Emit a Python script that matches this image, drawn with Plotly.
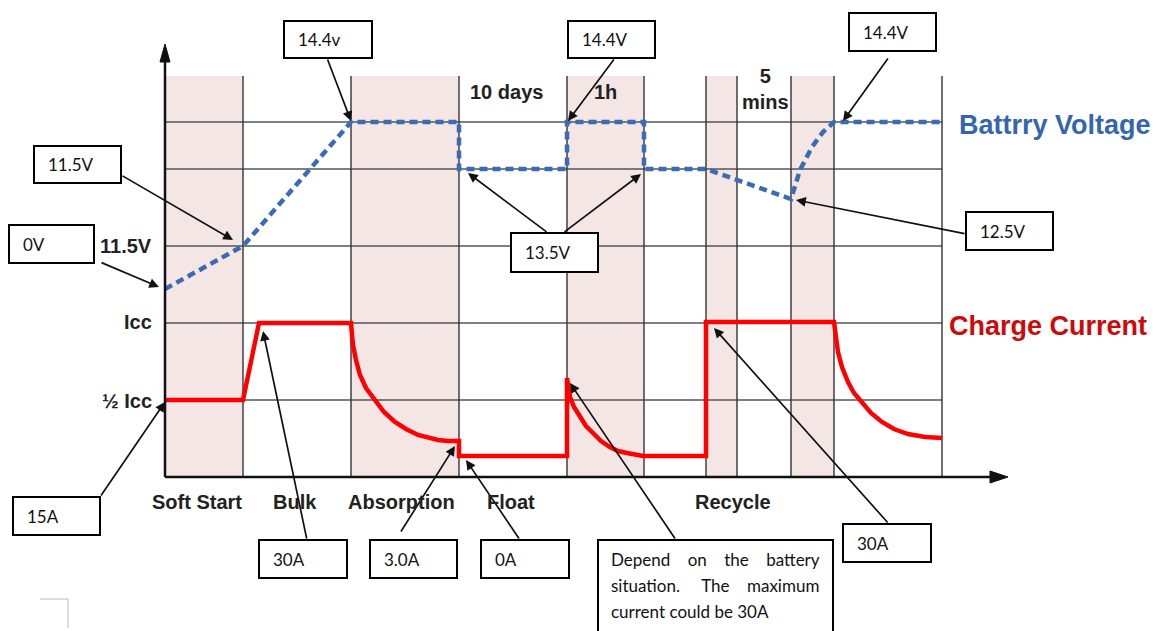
import plotly.graph_objects as go

# ---- data (in picture pixel coordinates) ----
phase_x = [165, 243, 351, 459, 567, 644, 706, 737, 791, 834, 942]
shaded_spans = [(165, 243), (351, 459), (567, 644), (706, 737), (791, 834)]
grid_y = [122, 169, 246, 323, 400]

voltage_x = [165, 243, 351, 459, 459, 567, 567, 644, 644, 706, 791, 800, 812, 823, 834, 942]
voltage_y = [289, 246, 122, 122, 169, 169, 122, 122, 169, 169, 199, 170, 147, 132, 122, 122]

current_x = [165, 243, 259, 351,
             352, 353, 356, 360, 366, 375, 384, 395, 406, 418, 428, 438, 448, 459,
             459, 567, 567,
             570, 574, 580, 586, 593, 601, 610, 618, 627, 635, 643,
             706, 706, 834,
             836, 838, 842, 848, 854, 862, 871, 882, 894, 908, 925, 942]
current_y = [400, 400, 323, 323,
             335, 345, 360, 375, 388, 400, 412, 422, 429, 435, 438, 440, 441, 441,
             456, 456, 378,
             397, 407, 417, 426, 433, 441, 447, 451, 453, 455, 456,
             456, 322, 322,
             337, 352, 367, 382, 393, 402, 413, 422, 429, 434, 437, 438]

y_labels = ["11.5V", "Icc", "½ Icc"]
y_label_pos = [246, 322, 401]

phase_names = ["Soft Start", "Bulk", "Absorption", "Float", "Recycle"]
phase_name_x = [197, 295, 401, 511, 733]

top_notes = ["10 days", "1h", "5<br>mins"]
top_note_pos = [(506, 92), (605, 92), (765, 89)]

# callout boxes: text, box (x0,y0,x1,y1), arrow tail, arrow head
callouts = [
    ("14.4v", (284, 21, 372, 58), (327, 58), (351, 121)),
    ("11.5V", (34, 146, 121, 183), (121, 175), (233, 240)),
    ("0V", (9, 225, 94, 263), (100, 262), (159, 287)),
    ("14.4V", (568, 21, 655, 58), (615, 58), (568, 121)),
    ("13.5V", (511, 233, 598, 272), (548, 233), (468, 173)),
    ("13.5V_", (511, 233, 598, 272), (563, 233), (641, 174)),
    ("14.4V", (849, 13, 936, 51), (889, 57), (843, 121)),
    ("12.5V", (966, 212, 1053, 250), (966, 234), (796, 200)),
    ("15A", (13, 497, 100, 535), (100, 497), (165, 402)),
    ("30A", (259, 540, 347, 578), (307, 540), (263, 331)),
    ("3.0A", (370, 540, 457, 578), (400, 533), (455, 446)),
    ("0A", (481, 540, 569, 578), (520, 540), (466, 460)),
    ("", (598, 540, 833, 645), (676, 540), (570, 383)),
    ("30A", (843, 524, 931, 562), (889, 524), (714, 328)),
]

NB = "\u00a0"
depend_lines = [
    "Depend" + NB * 4 + "on" + NB * 4 + "the" + NB * 4 + "battery",
    "situation." + NB * 5 + "The" + NB * 4 + "maximum",
    "current could be 30A",
]

# ---- figure ----
OFF = 8  # page body margin
W, H = 1165, 631
fig = go.Figure()

shapes = []
for x0, x1 in shaded_spans:
    shapes.append(dict(type="rect", x0=x0, x1=x1, y0=76, y1=477, fillcolor="#f5e6e6",
                       line=dict(width=0), layer="below"))
for gy in grid_y:
    shapes.append(dict(type="line", x0=165, x1=942, y0=gy, y1=gy,
                       line=dict(color="#555555", width=1.6), layer="below"))
for px in phase_x[1:]:
    shapes.append(dict(type="line", x0=px, x1=px, y0=76, y1=477,
                       line=dict(color="#333333", width=1.4), layer="below"))
# axes
shapes.append(dict(type="line", x0=165, x1=995, y0=477, y1=477, line=dict(color="#111", width=2.5)))
shapes.append(dict(type="line", x0=165, x1=165, y0=58, y1=477, line=dict(color="#111", width=2.5)))
shapes.append(dict(type="path", path="M 160 62 L 165 44 L 170 62 Z", fillcolor="#111", line=dict(color="#111", width=1)))
shapes.append(dict(type="path", path="M 990 471 L 1008 477 L 990 483 Z", fillcolor="#111", line=dict(color="#111", width=1)))
# corner mark
shapes.append(dict(type="line", x0=40, x1=68, y0=599, y1=599, line=dict(color="#bbbbbb", width=1)))
shapes.append(dict(type="line", x0=68, x1=68, y0=599, y1=628, line=dict(color="#bbbbbb", width=1)))

BOXFONT = dict(family="Lato, Noto Sans, sans-serif", size=17, color="#111")
annotations = []
for text, (bx0, by0, bx1, by1), tail, head in callouts:
    if not text.endswith("_"):
        shapes.append(dict(type="rect", x0=bx0, x1=bx1, y0=by0, y1=by1, fillcolor="white",
                           line=dict(color="black", width=2), layer="above"))
        if text:
            annotations.append(dict(x=max(bx0, 7) + 12, y=(by0 + by1) / 2, text=text, showarrow=False,
                                    xanchor="left", yanchor="middle", xref="x", yref="y",
                                    font=BOXFONT))
    annotations.append(dict(x=head[0], y=head[1], ax=tail[0], ay=tail[1], xref="x", yref="y",
                            axref="x", ayref="y", text="", showarrow=True, arrowhead=2,
                            arrowsize=1.15, arrowwidth=1.7, arrowcolor="#111", standoff=0, startstandoff=0))

for i, line in enumerate(depend_lines):
    annotations.append(dict(x=609, y=559 + i * 26, text=line, showarrow=False, xanchor="left",
                            yanchor="middle", xref="x", yref="y", font=BOXFONT))

bold = "Liberation Sans, Arial, sans-serif"
for lab, ly in zip(y_labels, y_label_pos):
    annotations.append(dict(x=154, y=ly, text="<b>%s</b>" % lab, showarrow=False, xanchor="right",
                            yanchor="middle", xref="x", yref="y", font=dict(family=bold, size=20, color="#222")))
for name, nx in zip(phase_names, phase_name_x):
    annotations.append(dict(x=nx, y=502, text="<b>%s</b>" % name, showarrow=False, xanchor="center",
                            yanchor="middle", xref="x", yref="y", font=dict(family=bold, size=20, color="#222")))
for note, (nx, ny) in zip(top_notes, top_note_pos):
    annotations.append(dict(x=nx, y=ny, text="<b>%s</b>" % note, showarrow=False, xanchor="center",
                            yanchor="middle", xref="x", yref="y", font=dict(family=bold, size=20, color="#222")))

annotations.append(dict(x=957, y=125, text="<b>Battrry Voltage</b>", showarrow=False, xanchor="left",
                        yanchor="middle", xref="x", yref="y", font=dict(family=bold, size=27, color="#3465ad")))
annotations.append(dict(x=947, y=326, text="<b>Charge Current</b>", showarrow=False, xanchor="left",
                        yanchor="middle", xref="x", yref="y", font=dict(family=bold, size=27, color="#cc0a0a")))

fig.add_trace(go.Scatter(x=voltage_x, y=voltage_y, mode="lines", hoverinfo="skip",
                         line=dict(color="#3a6cb3", width=4.5, dash="8px,5px")))
fig.add_trace(go.Scatter(x=current_x, y=current_y, mode="lines", hoverinfo="skip",
                         line=dict(color="#ff0000", width=4.5)))

fig.update_layout(
    width=W - OFF, height=H - OFF, autosize=False, showlegend=False,
    margin=dict(l=0, r=0, t=0, b=0), paper_bgcolor="white", plot_bgcolor="white",
    xaxis=dict(range=[OFF, W], visible=False, fixedrange=True),
    yaxis=dict(range=[H, OFF], visible=False, fixedrange=True),
    shapes=shapes, annotations=annotations,
)

fig.write_html("out.html")
